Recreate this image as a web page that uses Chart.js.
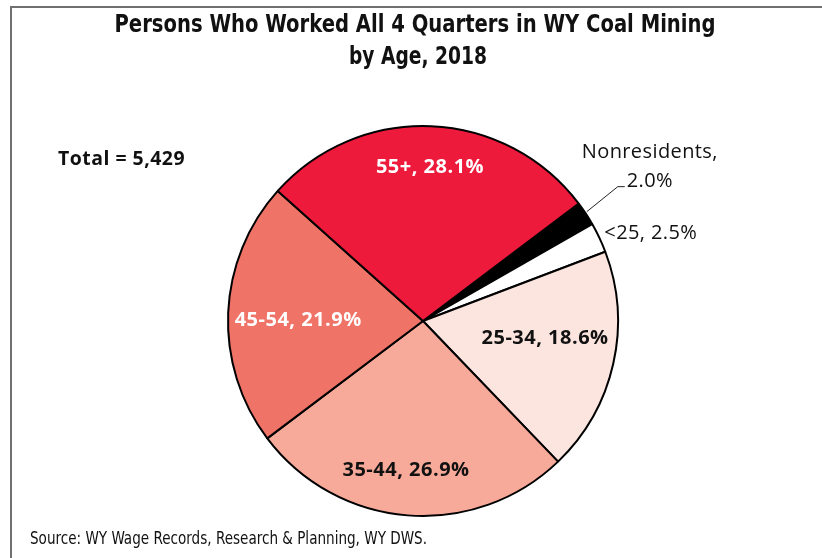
<!DOCTYPE html>
<html>
<head>
<meta charset="utf-8">
<script src="https://cdn.jsdelivr.net/npm/chart.js@4.4.1/dist/chart.umd.min.js"></script>
<style>
  html, body { margin: 0; padding: 0; background: #fff; }
  #wrap { width: 822px; height: 558px; }
</style>
</head>
<body>
<div id="wrap"><canvas id="ageChart" width="822" height="558"></canvas></div>
<script>
const ageGroups = ['Nonresidents', '<25', '25-34', '35-44', '45-54', '55+'];
const shares = [2.0, 2.5, 18.6, 26.9, 21.9, 28.1];
const totalPersons = 5429;
const titleLines = ['Persons Who Worked All 4 Quarters in WY Coal Mining', 'by Age, 2018'];
const sourceNote = 'Source: WY Wage Records, Research & Planning, WY DWS.';

const sliceColors = ['#000000', '#ffffff', '#fde5df', '#f8aa9a', '#f07367', '#ed1a3b'];

// where the labels inside the pie sit, as fractions of the radius from the centre
const insideLabels = {
    '55+':   { dx: 0.036,  dy: -0.786, color: '#ffffff' },
    '45-54': { dx: -0.64,  dy: -0.005, color: '#ffffff' },
    '35-44': { dx: -0.087, dy: 0.764,  color: '#111111' },
    '25-34': { dx: 0.626,  dy: 0.087,  color: '#111111' }
};

const narrow = "'DejaVu Sans Condensed', 'DejaVu Sans', sans-serif";
const boldLabelFont = "bold 20px 'Open Sans', sans-serif";
const plainLabelFont = "20px 'Open Sans', sans-serif";

function sliceText(i) {
    return ageGroups[i] + ', ' + shares[i].toFixed(1) + '%';
}

// squeeze text sideways so it takes the given width (the original uses a condensed face)
function fitText(ctx, text, x, y, width) {
    const w = ctx.measureText(text).width;
    ctx.save();
    ctx.translate(x, y);
    ctx.scale(width / w, 1);
    ctx.fillText(text, 0, 0);
    ctx.restore();
}

const textPlugin = {
    id: 'pieText',
    beforeDraw(chart) {
        const ctx = chart.ctx;
        ctx.save();
        ctx.fillStyle = '#ffffff';
        ctx.fillRect(0, 0, chart.width, chart.height);
        ctx.strokeStyle = '#707070';
        ctx.lineWidth = 2;
        ctx.strokeRect(11, 7, chart.width, chart.height);
        ctx.restore();
    },
    afterDraw(chart) {
        const ctx = chart.ctx;
        const arcs = chart.getDatasetMeta(0).data;
        ctx.save();

        // title
        ctx.fillStyle = '#111111';
        ctx.textAlign = 'center';
        ctx.textBaseline = 'middle';
        ctx.font = 'bold 25px ' + narrow;
        fitText(ctx, titleLines[0], 415, 25, 601);
        fitText(ctx, titleLines[1], 418, 57, 138);

        // total
        ctx.textAlign = 'left';
        ctx.font = boldLabelFont;
        ctx.letterSpacing = '0.5px';
        fitText(ctx, 'Total = ' + totalPersons.toLocaleString('en-US'), 58, 159, 127);

        // source
        ctx.letterSpacing = '0px';
        ctx.font = '17px ' + narrow;
        fitText(ctx, sourceNote, 30, 540, 397);

        // labels inside slices
        ctx.textAlign = 'center';
        ctx.font = boldLabelFont;
        ctx.letterSpacing = '0.5px';
        ageGroups.forEach((name, i) => {
            const spot = insideLabels[name];
            if (!spot) return;
            const arc = arcs[i];
            const r = arc.outerRadius;
            ctx.fillStyle = spot.color;
            ctx.fillText(sliceText(i), arc.x + spot.dx * r, arc.y + spot.dy * r);
        });

        // small slices outside the pie
        ctx.fillStyle = '#111111';
        ctx.font = plainLabelFont;
        ctx.letterSpacing = '0.4px';

        const edge = (i) => {
            const a = arcs[i];
            const mid = (a.startAngle + a.endAngle) / 2;
            return { x: a.x + Math.cos(mid) * a.outerRadius, y: a.y + Math.sin(mid) * a.outerRadius };
        };

        // Nonresidents with a leader line
        const p0 = edge(0);
        ctx.strokeStyle = '#222222';
        ctx.lineWidth = 1;
        ctx.beginPath();
        ctx.moveTo(p0.x + 1, p0.y - 2);
        ctx.lineTo(p0.x + 32, p0.y - 27);
        ctx.lineTo(p0.x + 39, p0.y - 27);
        ctx.stroke();
        ctx.textAlign = 'center';
        ctx.fillText(ageGroups[0] + ',', p0.x + 64, p0.y - 61);
        ctx.fillText(shares[0].toFixed(1) + '%', p0.x + 64, p0.y - 32);

        // <25
        const p1 = edge(1);
        ctx.textAlign = 'left';
        ctx.fillText(sliceText(1), p1.x + 5, p1.y - 4);

        ctx.restore();
    }
};

const ageChart = new Chart(document.getElementById('ageChart').getContext('2d'), {
    type: 'pie',
    data: {
        labels: ageGroups,
        datasets: [{
            data: shares,
            backgroundColor: sliceColors,
            borderColor: '#000000',
            borderWidth: 2,
            hoverOffset: 0
        }]
    },
    options: {
        responsive: false,
        animation: false,
        rotation: 53,
        layout: { padding: { top: 125, bottom: 41, left: 227, right: 203 } },
        plugins: {
            legend: { display: false },
            tooltip: { enabled: false }
        }
    },
    plugins: [textPlugin]
});
</script>
</body>
</html>
